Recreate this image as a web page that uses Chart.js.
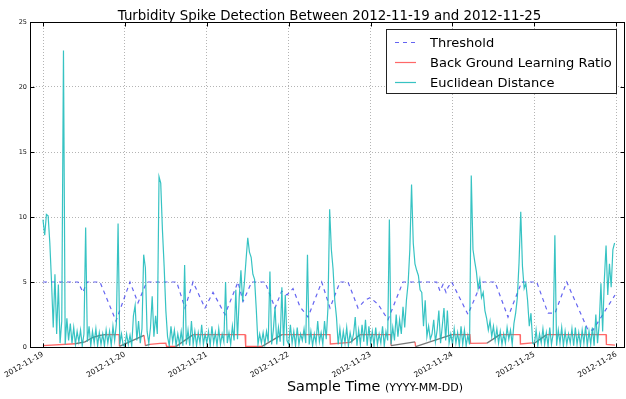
<!DOCTYPE html>
<html><head><meta charset="utf-8">
<script src="https://cdn.jsdelivr.net/npm/chart.js@4.4.1/dist/chart.umd.min.js"></script>
<style>html,body{margin:0;padding:0;background:#fff;}#wrap{width:626px;height:399px;position:relative;}</style>
</head><body><div id="wrap"><canvas id="c" width="626" height="399"></canvas></div>
<script>
const chartTitle = "Turbidity Spike Detection Between 2012-11-19 and 2012-11-25";
const xTitleMain = "Sample Time";
const xTitleUnit = "(YYYY-MM-DD)";
const dayLabels = ["2012-11-19","2012-11-20","2012-11-21","2012-11-22","2012-11-23","2012-11-24","2012-11-25","2012-11-26"];
const dayTickHours = [0,24,48,72,96,120,144,168];
const yTickValues = [0,5,10,15,20,25];
const seriesLabels = ["Threshold","Back Ground Learning Ratio","Euclidean Distance"];

// Threshold (hours since 2012-11-19 00:00, value)
const thresholdHours = [0,10.26,11.72,12.89,16.70,21.39,25.49,27.84,30.39,39.18,41.61,43.96,47.47,49.82,53.33,57.14,58.61,61.16,65.05,67.99,69.95,71.50,73.26,75.31,77.66,81.67,84.10,87.03,89.38,92.31,94.37,95.82,98.17,101.10,105.49,115.37,116.34,117.22,118.10,118.68,119.77,124.54,128.56,132.45,136.26,140.28,144.67,147.99,150.04,153.47,159.71,161.17,167.62];
const thresholdValues = [5,5,4.2,5,5,2.0,5,3.4,5,5,3.0,5,3.0,4.2,2.5,5,3.5,5,5,3.0,4.3,4.0,4.5,3.1,2.3,5,3.0,5,5,3.0,3.6,3.8,3.3,2.1,5,5,4.3,4.8,4.2,4.6,5,2.5,5,5,2.3,5,5,2.6,2.6,5,1.3,1.3,4.0];

// Back ground learning ratio
const ratioHours = [0,9.4,12.3,14.7,16.7,18.2,22.3,22.4,29.6,30.0,31.3,34.3,36.0,36.2,39.0,44.0,59.2,59.4,64.2,70.0,84.1,84.2,90.0,92.9,101.9,102.0,109.0,109.2,119.8,125.1,125.3,130.1,133.9,139.8,139.9,144.2,147.6,165.0,165.1,167.6];
const ratioValues = [0.1,0.25,0.4,0.75,0.9,0.95,0.95,0.05,0.9,0.1,0.2,0.28,0.3,0.05,0.05,0.95,0.95,0.05,0.05,0.95,0.95,0.23,0.35,0.95,0.95,0.1,0.4,0.03,0.95,0.95,0.28,0.3,0.95,0.95,0.23,0.33,0.95,0.95,0.2,0.15];

// Euclidean distance, one sample every half hour, per day
const distanceStepHours = 0.5;
const distance1119 = [9.8,8.6,10.2,10.1,8.0,5.0,1.5,5.6,1.0,4.8,0.3,2.0,22.8,0.2,2.2,0.5,1.8,0.3,1.5,0.2,1.2,0.4,1.3,0.1,1.0,9.2,0.4,1.6,0.1,1.2,0.3,1.4,0.1,1.1,0.2,1.0,0.1,1.3,0.3,1.2,0.1,1.6,0.5,1.8,9.5,0.2,1.0,0.1];
const distance1120 = [0.1,1.0,0.2,0.9,0.1,2.4,3.2,0.5,2.0,0.3,1.4,7.1,6.1,1.2,0.3,1.5,3.9,0.8,2.4,1.0,13.1,12.6,9.0,6.2,2.8,0.8,0.1,1.6,0.4,1.3,0.1,1.0,0.2,1.2,0.1,6.3,0.2,1.3,0.1,2.0,0.2,1.2,0.1,1.1,0.3,1.7,0.2,1.0];
const distance1121 = [0.3,1.2,0.1,1.6,0.3,1.1,0.1,1.4,0.2,1.0,0.4,5.0,0.3,1.1,0.2,1.6,0.5,4.4,0.6,3.8,5.9,3.5,4.9,6.7,8.4,7.3,6.9,5.6,5.2,2.9,0.2,1.0,0.3,1.1,0.2,1.2,0.4,5.8,0.2,1.3,3.1,0.2,1.5,0.4,4.6,0.1,4.0,0.5];
const distance1122 = [0.2,1.7,0.3,1.2,0.1,1.5,0.2,1.0,0.5,1.4,0.3,7.1,0.2,1.2,0.1,1.0,0.3,2.0,0.4,1.1,0.2,2.0,0.6,3.0,10.6,7.5,6.0,3.6,2.3,0.2,1.4,0.1,1.2,0.3,1.5,0.1,1.1,0.4,1.0,2.3,0.1,1.3,0.2,1.7,0.4,2.1,0.1,1.6];
const distance1123 = [0.3,1.2,0.1,1.5,0.2,1.0,0.3,1.6,0.1,1.2,0.5,9.8,0.2,1.5,0.5,2.5,0.8,2.1,1.0,3.1,1.5,3.6,4.9,7.5,12.5,8.0,6.4,5.9,5.5,4.4,4.2,1.6,3.6,0.8,1.6,0.6,1.0,2.1,0.4,1.3,2.8,0.3,1.6,3.0,0.5,2.8,0.3,1.0];
const distance1124 = [0.2,1.4,0.3,1.1,0.1,1.6,0.2,1.3,0.1,0.9,0.2,13.2,7.5,6.6,5.8,4.5,5.2,3.8,4.2,2.8,2.2,1.3,2.0,0.8,1.6,0.5,1.4,0.3,1.2,0.2,1.0,0.3,1.5,0.6,1.3,0.2,1.8,2.6,3.8,6.5,10.4,6.2,4.5,4.9,3.6,1.6,2.6,0.3];
const distance1125 = [0.2,1.3,0.1,1.0,0.3,1.4,0.2,1.1,0.1,1.5,0.2,1.0,8.6,0.1,1.3,0.3,1.5,0.1,1.2,0.2,1.0,0.3,1.4,0.1,1.5,0.2,1.1,0.1,1.3,0.3,1.6,0.1,1.2,0.2,1.5,0.1,2.5,0.3,1.8,4.9,1.2,5.2,7.8,4.0,6.4,4.6,7.5,8.0];

const distanceValues = [].concat(distance1119,distance1120,distance1121,distance1122,distance1123,distance1124,distance1125);
const distancePoints = distanceValues.map((v,i)=>({x:i*distanceStepHours,y:v}));
const thresholdPoints = thresholdValues.map((v,i)=>({x:thresholdHours[i],y:v}));
const ratioPoints = ratioValues.map((v,i)=>({x:ratioHours[i],y:v}));

const COL_BLUE = 'rgba(40,40,235,0.72)';
const COL_RED = 'rgba(255,40,40,0.7)';
const COL_RISE = 'rgba(95,95,95,0.85)';
const COL_CYAN = 'rgba(20,185,185,0.85)';
const FONT = '"DejaVu Sans", "Liberation Sans", sans-serif';

const deco = {
  id: 'deco',
  afterDraw(chart) {
    const {ctx, chartArea: a, scales: {x, y}} = chart;
    ctx.save();
    ctx.strokeStyle = '#000'; ctx.lineWidth = 1; ctx.setLineDash([]);
    const L = Math.round(a.left) + 0.5, T = Math.round(a.top) + 0.5, R = Math.round(a.right) - 0.5, B = Math.round(a.bottom) + 0.5;
    ctx.strokeRect(L, T, R - L, B - T);
    ctx.beginPath();
    x.ticks.forEach(t => { const p = Math.round(x.getPixelForValue(t.value)) + 0.5; ctx.moveTo(p, B); ctx.lineTo(p, B - 4); ctx.moveTo(p, T); ctx.lineTo(p, T + 4); });
    y.ticks.forEach(t => { const p = Math.round(y.getPixelForValue(t.value)) + 0.5; ctx.moveTo(L, p); ctx.lineTo(L + 4, p); ctx.moveTo(R, p); ctx.lineTo(R - 4, p); });
    ctx.stroke();
    // title
    ctx.fillStyle = '#000';
    ctx.font = '16px ' + FONT;
    const w = ctx.measureText(chartTitle).width;
    const fs = 16 * 424 / w;
    ctx.font = fs.toFixed(2) + 'px ' + FONT;
    ctx.textAlign = 'center'; ctx.textBaseline = 'alphabetic';
    ctx.fillText(chartTitle, 329.5, 19.5);
    // x axis title
    ctx.textAlign = 'left';
    ctx.font = '15px ' + FONT;
    const w1 = ctx.measureText(xTitleMain + ' ').width;
    ctx.font = '11.5px ' + FONT;
    const w2 = ctx.measureText(xTitleUnit).width;
    const k = 176 / (w1 + w2);
    ctx.font = (15 * k).toFixed(2) + 'px ' + FONT;
    ctx.fillText(xTitleMain, 287, 391);
    ctx.font = (11.5 * k).toFixed(2) + 'px ' + FONT;
    ctx.fillText(xTitleUnit, 287 + w1 * k, 391);
    // legend
    const bx = 386.5, by = 29.5, bw = 230, bh = 64;
    ctx.fillStyle = '#fff';
    ctx.fillRect(bx, by, bw, bh);
    ctx.strokeStyle = '#222'; ctx.lineWidth = 1;
    ctx.strokeRect(bx, by, bw, bh);
    ctx.font = '14px ' + FONT;
    const wl = ctx.measureText(seriesLabels[1]).width;
    const lf = 14 * 182 / wl;
    ctx.font = lf.toFixed(2) + 'px ' + FONT;
    const rows = [
      {label: seriesLabels[0], color: COL_BLUE, dash: [4, 4], ly: 42.5, ty: 46.5},
      {label: seriesLabels[1], color: COL_RED, dash: [], ly: 62.5, ty: 66.8},
      {label: seriesLabels[2], color: COL_CYAN, dash: [], ly: 82.5, ty: 87.2}
    ];
    rows.forEach(r => {
      ctx.strokeStyle = r.color; ctx.lineWidth = 1.2; ctx.setLineDash(r.dash);
      ctx.beginPath(); ctx.moveTo(395, r.ly); ctx.lineTo(416, r.ly); ctx.stroke();
      ctx.setLineDash([]);
      ctx.fillStyle = '#000';
      ctx.fillText(r.label, 430, r.ty);
    });
    ctx.restore();
  }
};

new Chart(document.getElementById('c'), {
  type: 'line',
  data: {
    datasets: [
      {label: seriesLabels[2], data: distancePoints, borderColor: COL_CYAN, borderWidth: 1.2, pointRadius: 0, tension: 0, fill: false},
      {label: seriesLabels[1], data: ratioPoints, borderColor: COL_RED, borderWidth: 1.3, pointRadius: 0, tension: 0, fill: false,
        segment: {borderColor: c => ((c.p1.parsed.y - c.p0.parsed.y) / Math.max(c.p1.parsed.x - c.p0.parsed.x, 0.001) > 0.03 ? COL_RISE : COL_RED)}},
      {label: seriesLabels[0], data: thresholdPoints, borderColor: COL_BLUE, borderWidth: 1.2, borderDash: [4, 4], pointRadius: 0, tension: 0, fill: false}
    ]
  },
  options: {
    responsive: false, animation: false, devicePixelRatio: 1,
    layout: {padding: {top: 22, right: 1, left: 0, bottom: 0}},
    plugins: {legend: {display: false}, title: {display: false}, tooltip: {enabled: false}},
    scales: {
      x: {
        type: 'linear', min: -3.81, max: 170.55,
        afterBuildTicks: s => { s.ticks = dayTickHours.map(v => ({value: v})); },
        afterFit: s => { s.height = 52; },
        ticks: {autoSkip: false, minRotation: 30, maxRotation: 30, padding: 3, color: '#111',
          font: {family: FONT, size: 7.5},
          callback: v => dayLabels[dayTickHours.indexOf(v)]},
        grid: {color: '#b4b4b4', drawTicks: false, lineWidth: 1},
        border: {display: false, dash: [1, 2]}
      },
      y: {
        min: 0, max: 25,
        afterBuildTicks: s => { s.ticks = yTickValues.map(v => ({value: v})); },
        afterFit: s => { s.width = 30; },
        ticks: {padding: 3, color: '#111', font: {family: FONT, size: 6.5}},
        grid: {color: '#b4b4b4', drawTicks: false, lineWidth: 1},
        border: {display: false, dash: [1, 2]}
      }
    }
  },
  plugins: [deco]
});
</script></body></html>
